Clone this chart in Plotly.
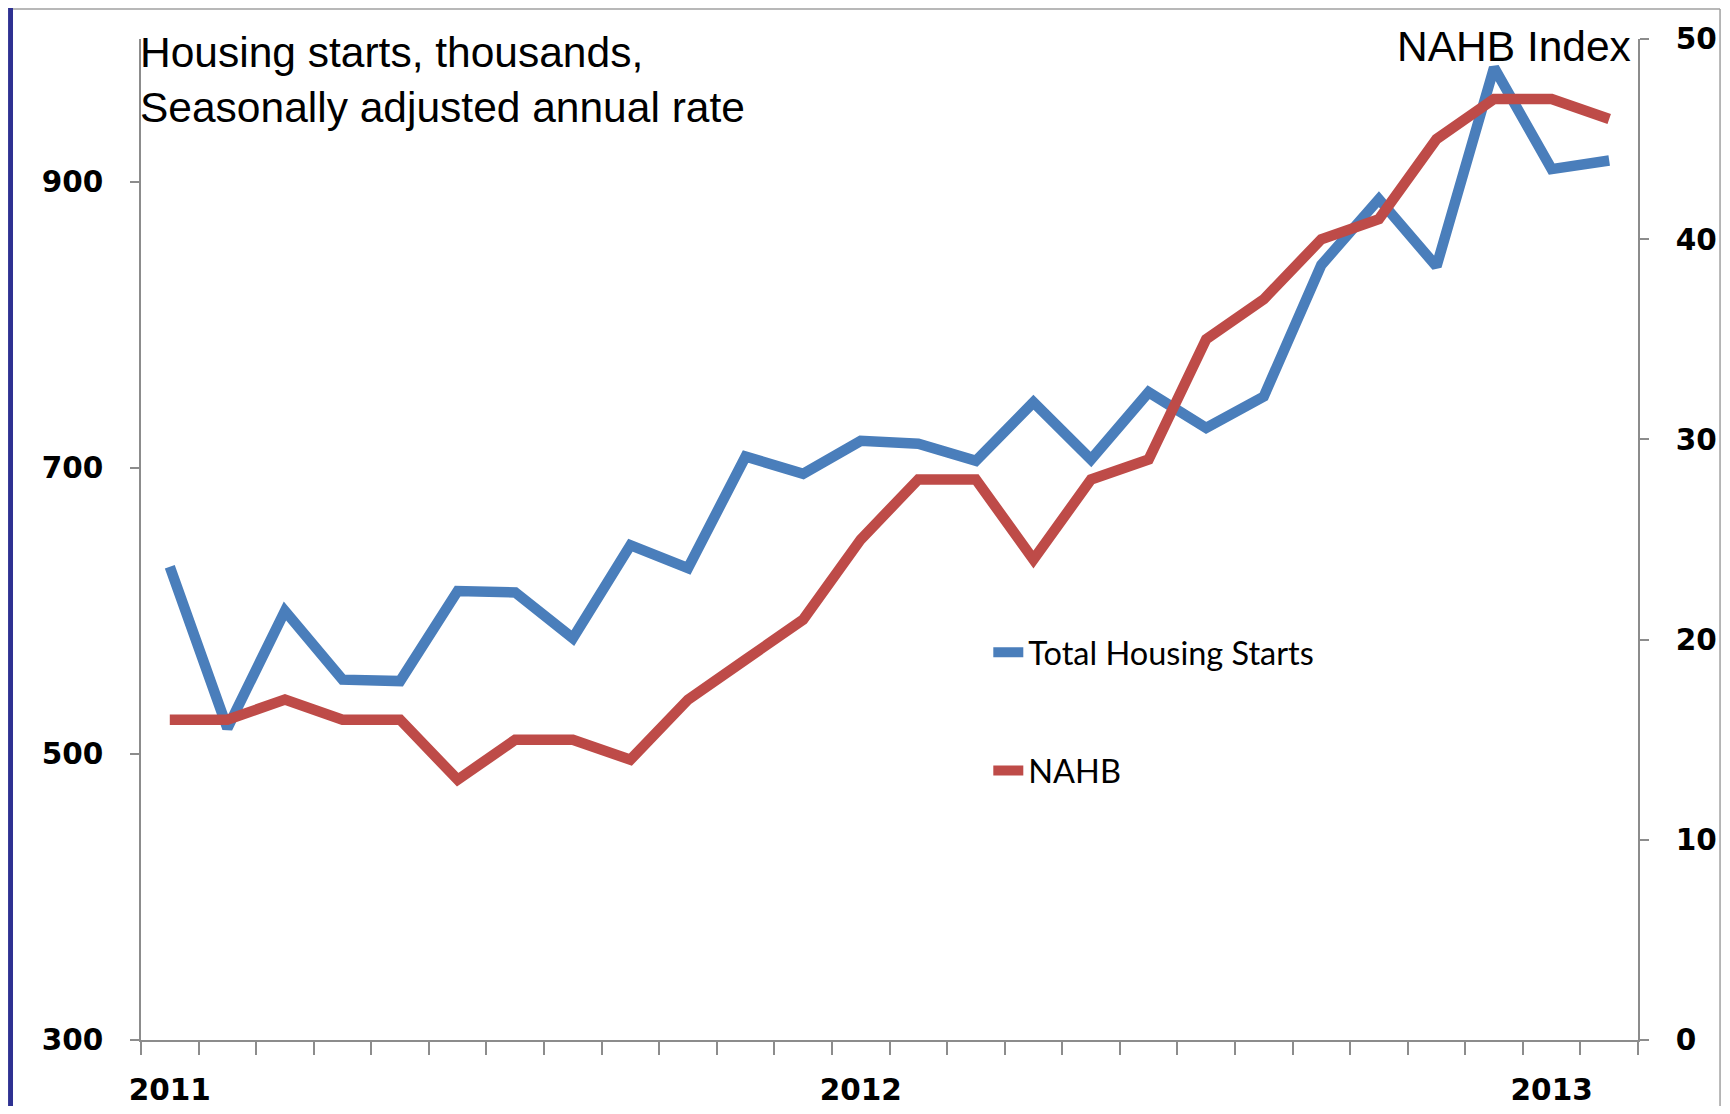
import plotly.graph_objects as go

months = ["Jan 2011", "Feb 2011", "Mar 2011", "Apr 2011", "May 2011", "Jun 2011",
          "Jul 2011", "Aug 2011", "Sep 2011", "Oct 2011", "Nov 2011", "Dec 2011",
          "Jan 2012", "Feb 2012", "Mar 2012", "Apr 2012", "May 2012", "Jun 2012",
          "Jul 2012", "Aug 2012", "Sep 2012", "Oct 2012", "Nov 2012", "Dec 2012",
          "Jan 2013", "Feb 2013"]
housing_starts = [631, 518, 600, 552, 551, 614, 613, 581, 646, 630, 708, 696,
                  719, 717, 705, 746, 706, 753, 728, 750, 842, 888, 841, 980,
                  909, 915]
nahb_index = [16, 16, 17, 16, 16, 13, 15, 15, 14, 17, 19, 21,
              25, 28, 28, 24, 28, 29, 35, 37, 40, 41, 45, 47,
              47, 46]
year_labels = {"Jan 2011": "2011", "Jan 2012": "2012", "Jan 2013": "2013"}
x_ticktext = [year_labels.get(m, "") for m in months]
left_ticks = [300, 500, 700, 900]
right_ticks = [0, 10, 20, 30, 40, 50]

BLUE = "#4A7EBB"
RED = "#BE4B48"
AXIS = "#8C8C8C"
TICKFONT = dict(family="DejaVu Sans", size=29.5, color="black", weight="bold")

fig = go.Figure()
fig.add_trace(go.Scatter(x=months, y=housing_starts, mode="lines",
                         name="Total Housing Starts", legendgroup="a",
                         line=dict(color=BLUE, width=10.5), yaxis="y"))
fig.add_trace(go.Scatter(x=months, y=nahb_index, mode="lines",
                         name="NAHB", legendgroup="b",
                         line=dict(color=RED, width=10.5), yaxis="y2"))

fig.update_layout(
    width=1714, height=1098,
    margin=dict(l=133, r=84, t=31, b=66, autoexpand=False),
    paper_bgcolor="white", plot_bgcolor="white",
    showlegend=True,
    legend=dict(x=0.566, y=0.415, xanchor="left", yanchor="top",
                bgcolor="rgba(0,0,0,0)", tracegroupgap=73,
                font=dict(family="Lato", size=32.5, color="black")),
    xaxis=dict(type="category", categoryorder="array", categoryarray=months,
               range=[-0.5, len(months) - 0.5],
               tickmode="array", tickvals=months, ticktext=x_ticktext,
               tickson="boundaries", ticks="outside", ticklen=13, tickwidth=1.5,
               tickcolor=AXIS, showline=True, linecolor=AXIS, linewidth=1.5,
               showgrid=False, zeroline=False, tickfont=TICKFONT, tickangle=0,
               automargin=False, ticklabelstandoff=23),
    yaxis=dict(range=[300, 1000], tickvals=left_ticks, ticks="outside",
               ticklen=9, tickwidth=1.5, tickcolor=AXIS, showline=True,
               linecolor=AXIS, linewidth=1.5, showgrid=False, zeroline=False,
               tickfont=TICKFONT, ticklabelstandoff=21, automargin=False),
    yaxis2=dict(range=[0, 50], tickvals=right_ticks, overlaying="y", side="right",
                ticks="outside", ticklen=9, tickwidth=1.5, tickcolor=AXIS,
                showline=True, linecolor=AXIS, linewidth=1.5, showgrid=False,
                zeroline=False, tickfont=TICKFONT, ticklabelstandoff=21,
                automargin=False),
    annotations=[
        dict(text="Housing starts, thousands,<br>Seasonally adjusted annual rate",
             xref="paper", yref="paper", x=-0.002, y=1.012, xanchor="left",
             yanchor="top", align="left", showarrow=False,
             font=dict(family="Liberation Sans", size=42.5, color="black")),
        dict(text="NAHB Index", xref="paper", yref="paper", x=0.9967, y=0.993,
             xanchor="right", yanchor="middle", showarrow=False,
             font=dict(family="Liberation Sans", size=42.5, color="black")),
    ],
    shapes=[
        dict(type="rect", xref="paper", yref="paper", x0=-0.0888, x1=-0.0855,
             y0=-0.066, y1=1.031, fillcolor="#2E3192", line=dict(width=0),
             layer="below"),
        dict(type="line", xref="paper", yref="paper", x0=-0.0855, x1=1.0548,
             y0=1.030, y1=1.030, line=dict(color="#A0A0A0", width=1.5)),
        dict(type="line", xref="paper", yref="paper", x0=1.0548, x1=1.0548,
             y0=-0.066, y1=1.030, line=dict(color="#A0A0A0", width=1.5)),
    ],
)

fig.write_html("out.html")
